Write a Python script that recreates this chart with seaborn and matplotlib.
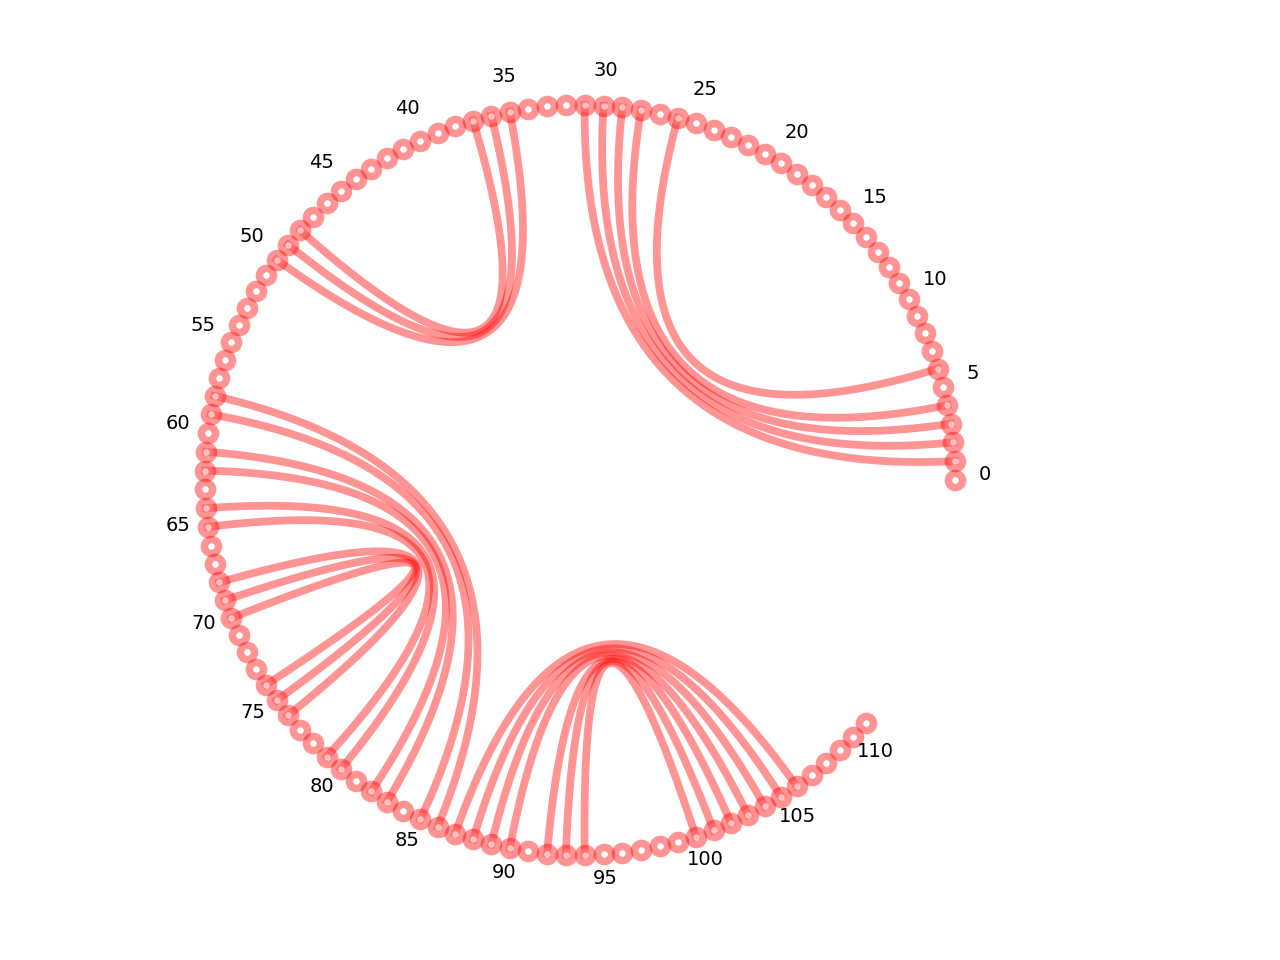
import numpy as np
import pandas as pd
import matplotlib
matplotlib.use("Agg")
import matplotlib.pyplot as plt
import seaborn as sns

# ---- data ----
n_slots = 125                      # angular slots around the circle
node_ids = list(range(0, 112))     # nodes drawn (0..111)
label_ids = list(range(0, 111, 5)) # labelled nodes
edge_sources = [1, 2, 3, 4, 6, 35, 36, 37,
                58, 59, 61, 62, 64, 65, 68, 69, 70,
                87, 88, 89, 90, 92, 93, 94]
edge_targets = [31, 30, 29, 28, 26, 50, 49, 48,
                86, 85, 83, 82, 80, 79, 76, 75, 74,
                106, 105, 104, 103, 102, 101, 100]

color = "red"
alpha = 0.42


def pos(i, rad=1.0):
    a = 2 * np.pi * i / n_slots
    return rad * np.cos(a), rad * np.sin(a)


fig = plt.figure(figsize=(12.8, 9.6), dpi=100)
ax = fig.add_axes([0, 0, 1, 1])

# edges: quadratic Bezier through the circle centre
rows = []
t = np.linspace(0, 1, 80)
for k, (s, d) in enumerate(zip(edge_sources, edge_targets)):
    x0, y0 = pos(s)
    x2, y2 = pos(d)
    bx = (1 - t) ** 2 * x0 + t ** 2 * x2
    by = (1 - t) ** 2 * y0 + t ** 2 * y2
    for j in range(len(t)):
        rows.append({"edge": k, "order": j, "x": bx[j], "y": by[j]})
edges_df = pd.DataFrame(rows)

sns.lineplot(data=edges_df, x="x", y="y", units="edge", estimator=None,
             sort=False, color=color, alpha=alpha, linewidth=5.6,
             legend=False, ax=ax, zorder=1)

# nodes
nodes_df = pd.DataFrame({
    "x": [pos(i)[0] for i in node_ids],
    "y": [pos(i)[1] for i in node_ids],
})
sns.scatterplot(data=nodes_df, x="x", y="y", s=104, color="white",
                edgecolor=color, linewidth=5.4, alpha=alpha,
                legend=False, ax=ax, zorder=2)

# labels
for i in label_ids:
    lx, ly = pos(i, 1.08)
    ax.text(lx, ly, str(i), ha="center", va="baseline", fontsize=14,
            color="black")

r_px = 375.0
ax.set_xlim(-580 / r_px, (1280 - 580) / r_px)
ax.set_ylim(-(960 - 480) / r_px, 480 / r_px)
ax.set_axis_off()

fig.savefig("out.png", dpi=100)
